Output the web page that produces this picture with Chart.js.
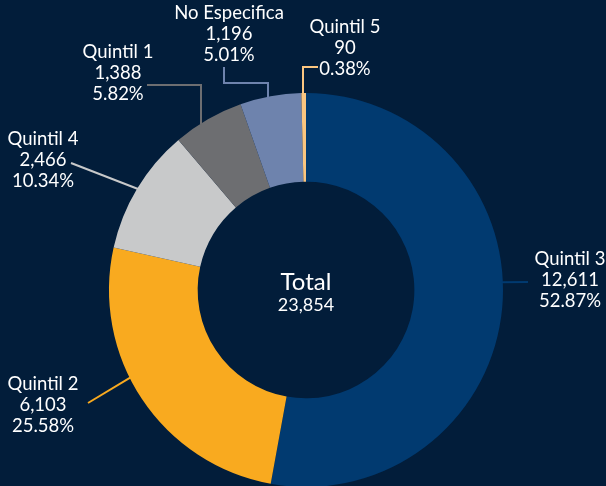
<!DOCTYPE html>
<html>
<head>
<meta charset="utf-8">
<script src="https://cdn.jsdelivr.net/npm/chart.js@4/dist/chart.umd.min.js"></script>
<style>
  html, body { margin: 0; padding: 0; background: #021d3a; overflow: hidden; }
  #wrap { width: 606px; height: 490px; }
</style>
</head>
<body>
<div id="wrap"><canvas id="donut" width="606" height="490"></canvas></div>
<script>
// data, clockwise from 12 o'clock
const categories = ['Quintil 3', 'Quintil 2', 'Quintil 4', 'Quintil 1', 'No Especifica', 'Quintil 5'];
const counts = [12611, 6103, 2466, 1388, 1196, 90];
const shares = ['52.87%', '25.58%', '10.34%', '5.82%', '5.01%', '0.38%'];
const totalLabel = 'Total';

const sliceColors = ['#013a70', '#f9aa1f', '#c8c9ca', '#6d6e71', '#6e83ad', '#fbc680'];

// leader line / label placement, offsets from the doughnut centre
// angle: where the line leaves the ring (deg clockwise from top), vertical: line leaves straight up
// path: elbow points after the ring edge, text: centre of the 2nd text line
const labelLayout = [
  { angle: 87.7, path: [[222, -8]], text: [264, -10] },
  { angle: 243.5, path: [[-218, 113]], text: [-263, 115] },
  { path: [[-235, -127]], text: [-263, -130] },
  { vertical: true, path: [[-105, -205], [-159, -205]], text: [-188, -217] },
  { vertical: true, path: [[-38, -207], [-82, -207], [-82, -223]], text: [-77, -256] },
  { vertical: true, path: [[-3, -223], [12, -223]], text: [39, -242] },
];

const fmt = (n) => n.toLocaleString('en-US');
const total = counts.reduce((a, b) => a + b, 0);

const labelPlugin = {
  id: 'sliceLabels',
  afterDatasetsDraw(chart) {
    const ctx = chart.ctx;
    const arcs = chart.getDatasetMeta(0).data;
    const cx = arcs[0].x;
    const cy = arcs[0].y;

    arcs.forEach((arc, i) => {
      const lay = labelLayout[i];
      const r = arc.outerRadius - 1;
      let sx, sy;
      if (lay.vertical) {
        const dx = lay.path[0][0];
        sx = cx + dx;
        sy = cy - Math.sqrt(r * r - dx * dx);
      } else {
        const mid = lay.angle !== undefined
          ? (lay.angle - 90) * Math.PI / 180
          : (arc.startAngle + arc.endAngle) / 2;
        sx = cx + Math.cos(mid) * r;
        sy = cy + Math.sin(mid) * r;
      }

      ctx.save();
      ctx.strokeStyle = sliceColors[i];
      ctx.lineWidth = 2;
      ctx.beginPath();
      ctx.moveTo(sx, sy);
      lay.path.forEach(([dx, dy]) => ctx.lineTo(cx + dx, cy + dy));
      ctx.stroke();

      ctx.fillStyle = '#ffffff';
      ctx.font = '18.5px Lato';
      ctx.textAlign = 'center';
      ctx.textBaseline = 'middle';
      const tx = cx + lay.text[0];
      const ty = cy + lay.text[1];
      ctx.fillText(categories[i], tx, ty - 21);
      ctx.fillText(fmt(counts[i]), tx, ty);
      ctx.fillText(shares[i], tx, ty + 21);
      ctx.restore();
    });

    ctx.save();
    ctx.fillStyle = '#ffffff';
    ctx.textAlign = 'center';
    ctx.textBaseline = 'middle';
    ctx.font = '24px Lato';
    ctx.fillText(totalLabel, cx, cy - 8);
    ctx.font = '18px Lato';
    ctx.fillText(fmt(total), cx, cy + 15);
    ctx.restore();
  },
};

new Chart(document.getElementById('donut'), {
  type: 'doughnut',
  data: {
    labels: categories,
    datasets: [
      {
        data: counts,
        backgroundColor: sliceColors,
        borderWidth: 0,
      },
    ],
  },
  options: {
    responsive: false,
    animation: false,
    cutout: '55%',
    layout: { padding: { top: 93, bottom: 3, left: 6, right: 0 } },
    plugins: {
      legend: { display: false },
      tooltip: { enabled: false },
    },
  },
  plugins: [labelPlugin],
});
</script>
</body>
</html>
